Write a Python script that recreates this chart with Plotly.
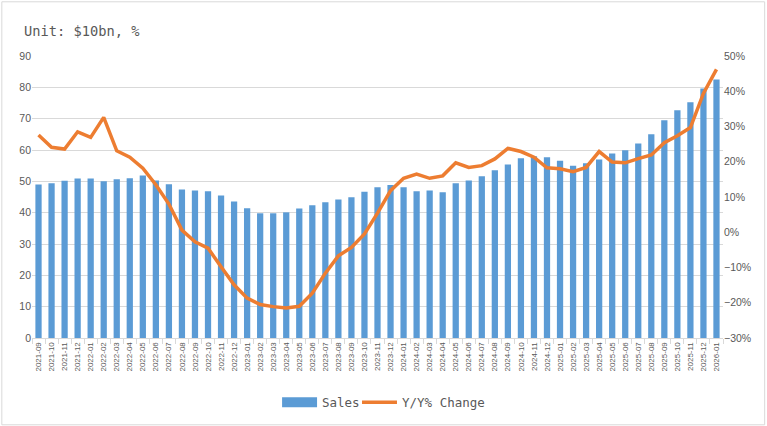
import plotly.graph_objects as go

months = [
    "2021-09", "2021-10", "2021-11", "2021-12",
    "2022-01", "2022-02", "2022-03", "2022-04", "2022-05", "2022-06",
    "2022-07", "2022-08", "2022-09", "2022-10", "2022-11", "2022-12",
    "2023-01", "2023-02", "2023-03", "2023-04", "2023-05", "2023-06",
    "2023-07", "2023-08", "2023-09", "2023-10", "2023-11", "2023-12",
    "2024-01", "2024-02", "2024-03", "2024-04", "2024-05", "2024-06",
    "2024-07", "2024-08", "2024-09", "2024-10", "2024-11", "2024-12",
    "2025-01", "2025-02", "2025-03", "2025-04", "2025-05", "2025-06",
    "2025-07", "2025-08", "2025-09", "2025-10", "2025-11", "2025-12",
    "2026-01",
]

sales = [
    49.0, 49.4, 50.2, 50.9,
    50.9, 50.0, 50.7, 51.0, 51.9, 50.3,
    49.1, 47.4, 47.1, 46.8, 45.5, 43.6,
    41.4, 39.8, 39.8, 40.1, 41.3, 42.4,
    43.3, 44.2, 44.9, 46.7, 48.1, 48.8,
    48.1, 46.8, 47.1, 46.5, 49.4, 50.3,
    51.6, 53.5, 55.4, 57.4, 58.0, 57.7,
    56.6, 55.0, 55.8, 57.0, 58.9, 59.9,
    62.1, 65.0, 69.5, 72.7, 75.2, 79.6,
    82.5,
]

yoy = [
    27.6, 24.1, 23.6, 28.5,
    26.9, 32.6, 23.1, 21.3, 18.2, 13.5,
    8.0, 0.6, -2.7, -4.5, -9.8, -14.9,
    -18.7, -20.5, -21.1, -21.5, -21.0, -17.3,
    -11.6, -6.7, -4.3, -0.5, 5.4, 11.8,
    15.3, 16.5, 15.3, 16.0, 19.7, 18.4,
    18.9, 20.8, 23.8, 22.9, 21.3, 18.3,
    18.0, 17.2, 18.4, 22.9, 19.9, 19.7,
    20.9, 21.9, 25.4, 27.4, 29.7, 39.4,
    46.2,
]

series_names = ["Sales", "Y/Y% Change"]

GRAY = "#595959"
GRID = "#d9d9d9"
BLUE = "#5B9BD5"
ORANGE = "#ED7D31"

fig = go.Figure()
fig.add_trace(go.Bar(
    x=months, y=sales, name=series_names[0],
    marker=dict(color=BLUE, line=dict(width=0)),
    yaxis="y", showlegend=False,
))
fig.add_trace(go.Scatter(
    x=months, y=yoy, name=series_names[1], mode="lines",
    line=dict(color=ORANGE, width=3.5),
    yaxis="y2", showlegend=False,
))

# plot area in pixels
L, R, T, B = 31.7, 723.3, 55.7, 337.7
W, H = R - L, B - T

def px(x):
    return (x - L) / W

def py(y):
    return (B - y) / H

LEG_FONT = dict(family="DejaVu Sans Mono", size=12.5, color=GRAY)
TICK_FONT = dict(family="Liberation Sans", size=10.5, color=GRAY)

fig.update_layout(
    width=767, height=426,
    margin=dict(l=L, r=767 - R, t=T, b=426 - B, autoexpand=False),
    paper_bgcolor="white", plot_bgcolor="white",
    bargap=0.52,
    showlegend=False,
    xaxis=dict(
        type="category", tickangle=-90,
        tickfont=dict(family="Liberation Sans", size=8, color=GRAY),
        showgrid=False, showline=True, linecolor=GRID, linewidth=1,
        ticks="outside", tickson="boundaries", ticklen=5, tickcolor=GRID,
        range=[-0.5, len(months) - 0.5],
    ),
    yaxis=dict(
        range=[0, 90], dtick=10, tick0=0,
        tickfont=TICK_FONT,
        showgrid=True, gridcolor=GRID, gridwidth=1,
        zeroline=False, showline=False, ticks="",
    ),
    yaxis2=dict(
        overlaying="y", side="right",
        range=[-30, 50], dtick=10, tick0=0, ticksuffix="%",
        tickfont=TICK_FONT,
        showgrid=False, zeroline=False, showline=False, ticks="",
    ),
    annotations=[
        dict(
            text="Unit: $10bn, %", xref="paper", yref="paper",
            x=px(22), y=py(31), xanchor="left", yanchor="middle",
            showarrow=False,
            font=dict(family="DejaVu Sans Mono", size=13.7, color=GRAY),
        ),
        dict(
            text=series_names[0], xref="paper", yref="paper",
            x=px(320), y=py(402), xanchor="left", yanchor="middle",
            showarrow=False, font=LEG_FONT,
        ),
        dict(
            text=series_names[1], xref="paper", yref="paper",
            x=px(400), y=py(402), xanchor="left", yanchor="middle",
            showarrow=False, font=LEG_FONT,
        ),
    ],
    shapes=[
        dict(
            type="rect", xref="paper", yref="paper",
            x0=px(1.5), x1=px(765), y0=py(424.5), y1=py(1.5),
            line=dict(color=GRID, width=1), fillcolor="rgba(0,0,0,0)",
            layer="below",
        ),
        dict(
            type="rect", xref="paper", yref="paper",
            x0=px(282), x1=px(317), y0=py(407), y1=py(397),
            line=dict(width=0), fillcolor=BLUE,
        ),
        dict(
            type="line", xref="paper", yref="paper",
            x0=px(362), x1=px(397), y0=py(402), y1=py(402),
            line=dict(color=ORANGE, width=3.5),
        ),
    ],
)

fig.write_html(
    "out.html",
    config={"displayModeBar": False},
    post_script="document.body.style.margin='0';document.body.style.overflow='hidden';",
)
